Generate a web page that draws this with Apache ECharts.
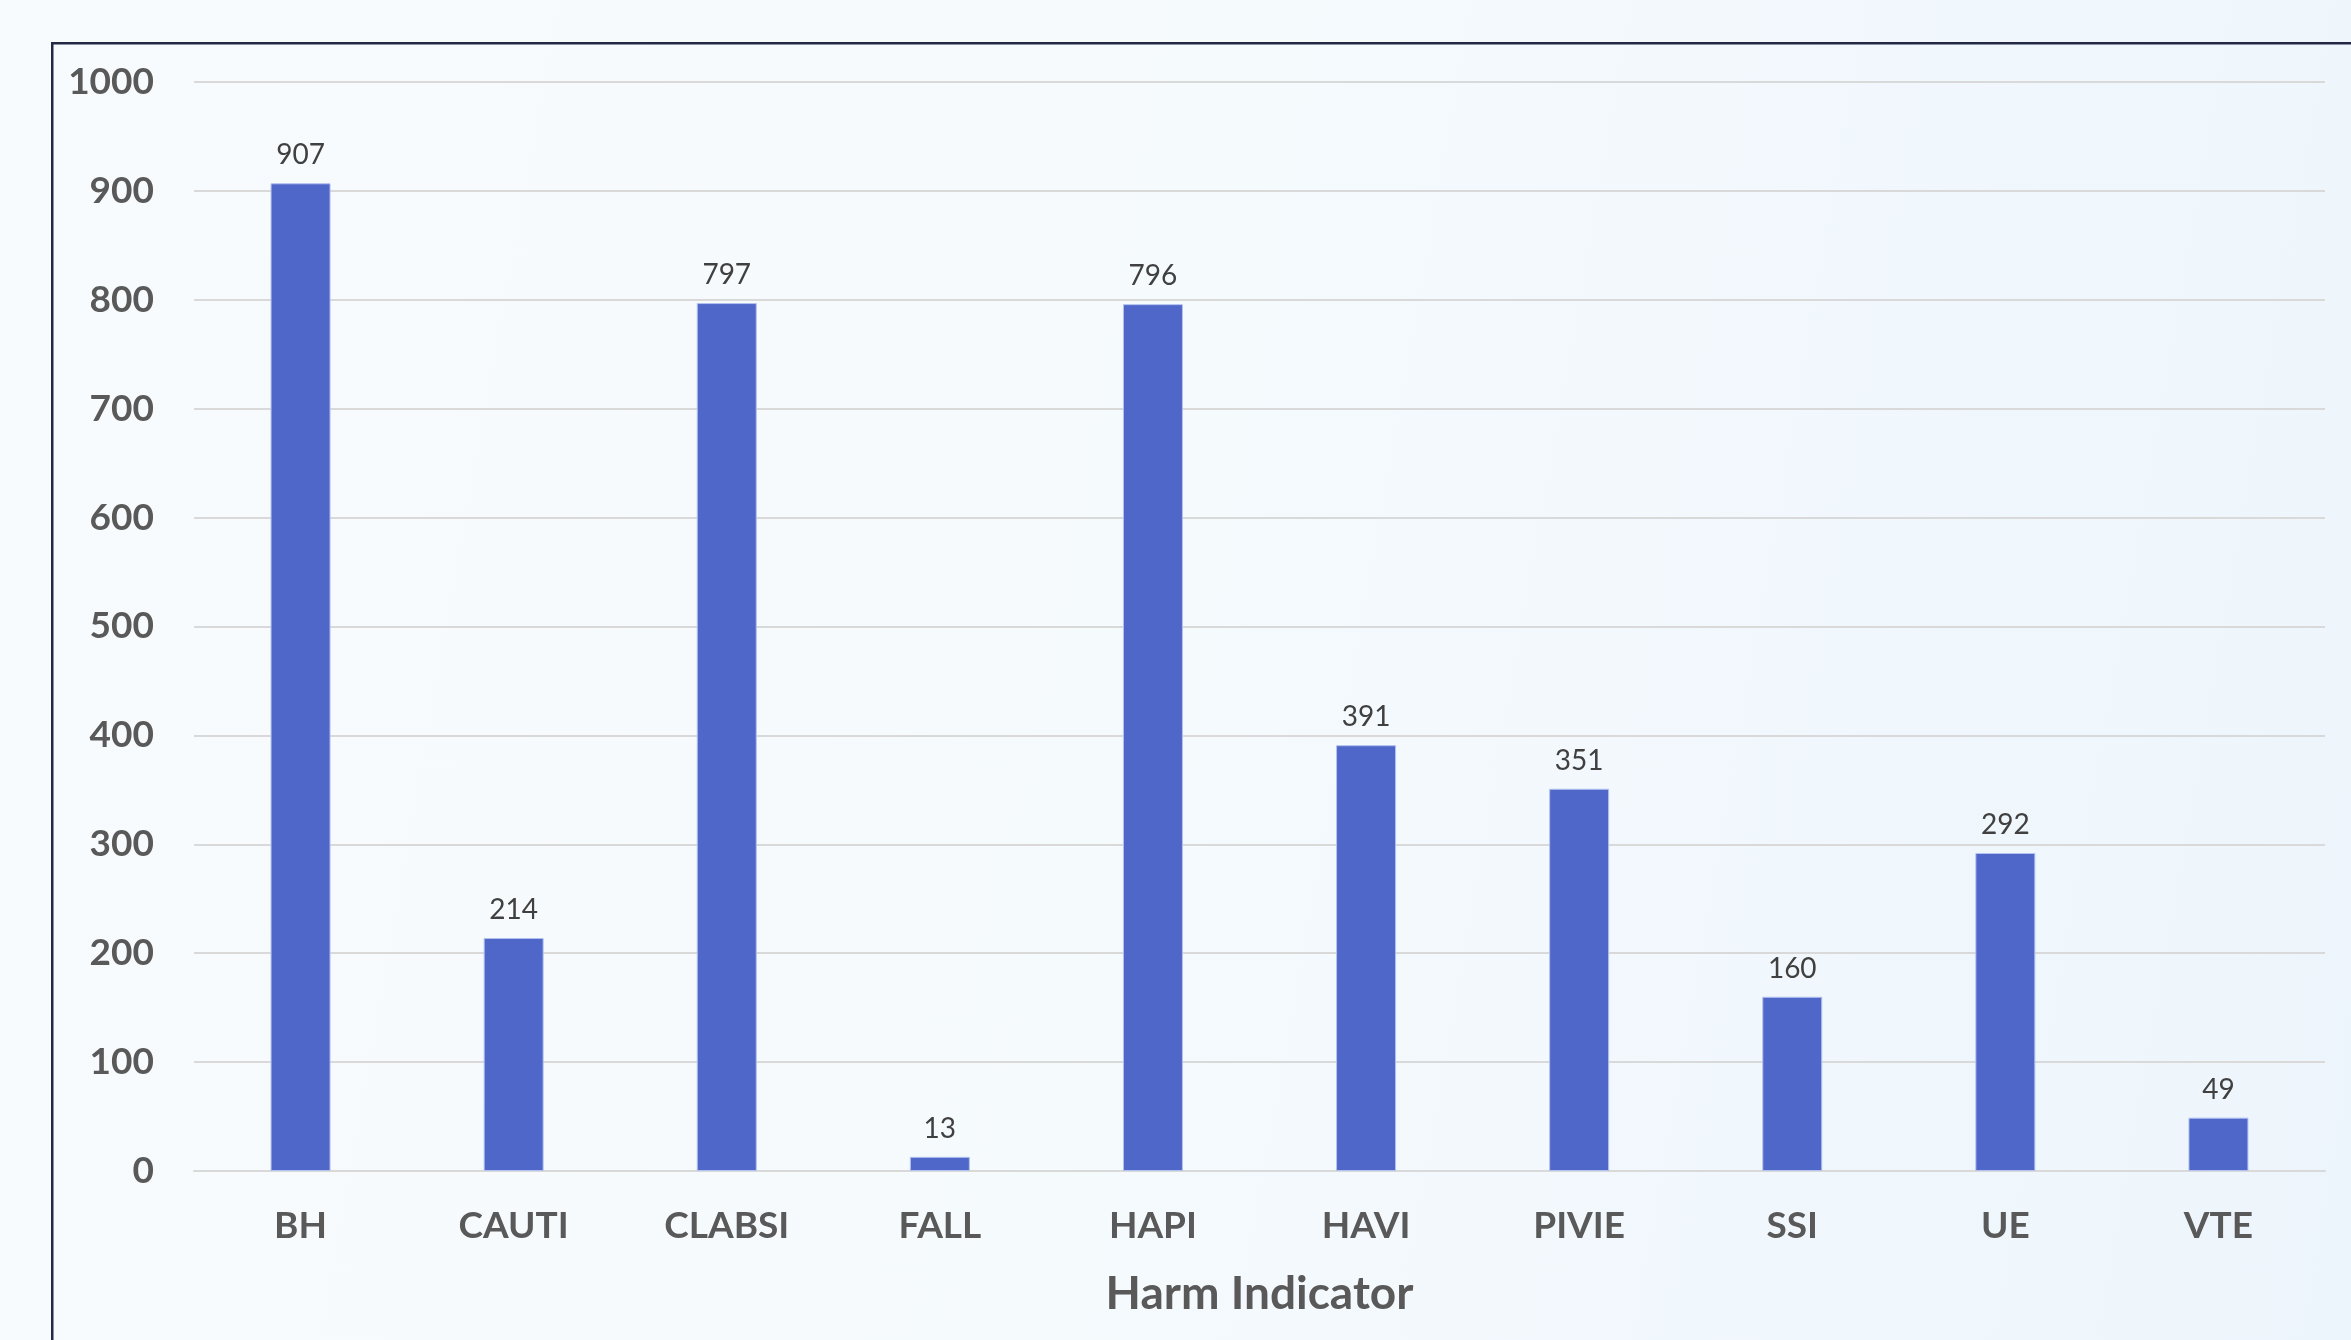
<!DOCTYPE html>
<html>
<head>
<meta charset="utf-8">
<script src="https://cdn.jsdelivr.net/npm/echarts@6/dist/echarts.min.js"></script>
<style>
  html, body {
    margin: 0;
    padding: 0;
    width: 2351px;
    height: 1340px;
    overflow: hidden;
    background: linear-gradient(100deg, #f8fbfe 0%, #f5fafd 50%, #edf5fc 100%);
  }
  #harmChart {
    width: 2351px;
    height: 1340px;
  }
</style>
</head>
<body>
<div id="harmChart"></div>
<script>
const indicators = ['BH', 'CAUTI', 'CLABSI', 'FALL', 'HAPI', 'HAVI', 'PIVIE', 'SSI', 'UE', 'VTE'];
const harmCounts = [907, 214, 797, 13, 796, 391, 351, 160, 292, 49];
const yTicks = { min: 0, max: 1000, interval: 100 };

document.addEventListener('DOMContentLoaded', () => {
  const chart = echarts.init(document.getElementById('harmChart'));
  const labelColor = '#595959';
  const font = 'Lato, "Open Sans", sans-serif';

  chart.setOption({
    backgroundColor: 'transparent',
    animation: false,
    textStyle: { fontFamily: font },
    graphic: [{
      type: 'rect',
      left: 51,
      top: 42,
      shape: { width: 2400, height: 1400 },
      style: { fill: 'transparent', stroke: '#232845', lineWidth: 2.5 },
      silent: true
    }],
    grid: {
      left: 194,
      right: 26,
      top: 82,
      bottom: 169
    },
    xAxis: {
      type: 'category',
      data: indicators,
      name: 'Harm Indicator',
      nameLocation: 'middle',
      nameGap: 100,
      nameTextStyle: {
        color: labelColor,
        fontSize: 46,
        fontWeight: 'bold',
        fontFamily: font
      },
      axisLine: { lineStyle: { color: '#d9d9d9', width: 2 } },
      axisTick: { show: false },
      axisLabel: {
        color: labelColor,
        fontSize: 37,
        fontWeight: 'bold',
        margin: 37,
        fontFamily: font
      }
    },
    yAxis: {
      type: 'value',
      min: yTicks.min,
      max: yTicks.max,
      interval: yTicks.interval,
      axisLine: { show: false },
      axisTick: { show: false },
      axisLabel: {
        color: labelColor,
        fontSize: 37,
        fontWeight: 'bold',
        margin: 40,
        fontFamily: font,
        formatter: (v) => String(v)
      },
      splitLine: {
        lineStyle: { color: '#d9d9d9', width: 2 }
      }
    },
    series: [{
      name: 'Harm Count',
      type: 'bar',
      data: harmCounts,
      barWidth: 60,
      itemStyle: {
        color: '#4f67c8',
        borderColor: '#b4c2f0',
        borderWidth: 1
      },
      label: {
        show: true,
        position: 'top',
        distance: 14,
        color: '#404040',
        fontSize: 28,
        fontFamily: font
      }
    }]
  });

  window.addEventListener('resize', () => chart.resize());
});
</script>
</body>
</html>
